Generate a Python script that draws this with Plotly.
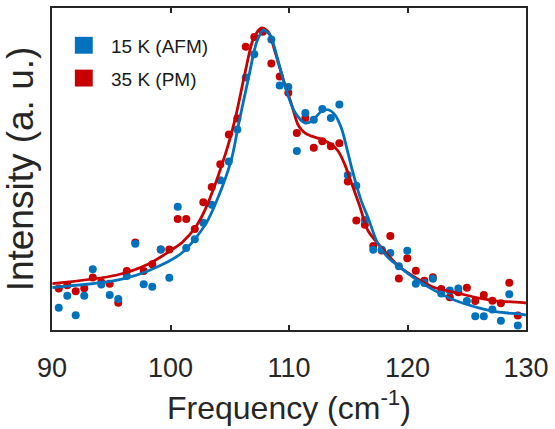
import plotly.graph_objects as go

# ---------------- data ----------------
freq = [90.57, 91.29, 92.00, 92.72, 93.44, 94.16, 94.87, 95.59, 96.31, 97.03,
        97.74, 98.46, 99.18, 99.90, 100.61, 101.33, 102.05, 102.77, 103.48, 104.20,
        104.92, 105.64, 106.35, 107.07, 107.79, 108.51, 109.22, 109.94, 110.66, 111.38,
        112.09, 112.81, 113.53, 114.25, 114.96, 115.68, 116.40, 117.11, 117.83, 118.55,
        119.27, 119.98, 120.70, 121.42, 122.14, 122.85, 123.57, 124.29, 125.01, 125.72,
        126.44, 127.16, 127.88, 128.59, 129.31]

afm_15K = [0.069, 0.106, 0.046, 0.106, 0.189, 0.141, 0.109, 0.096, 0.168, 0.268,
           0.142, 0.134, 0.250, 0.162, 0.383, 0.255, 0.282, 0.333, 0.389, 0.465,
           0.523, 0.623, 0.784, 0.856, 1.013, 0.902, 0.759, 0.755, 0.556, 0.674,
           0.653, 0.686, 0.658, 0.700, 0.481, 0.448, 0.342, 0.249, 0.249, 0.239,
           0.198, 0.246, 0.144, 0.146, 0.159, 0.113, 0.123, 0.129, 0.090, 0.043,
           0.043, 0.064, 0.029, 0.111, 0.014]

pm_35K = [0.129, 0.139, 0.120, 0.130, 0.163, 0.148, 0.144, 0.085, 0.183, 0.272,
          0.183, 0.204, 0.250, 0.250, 0.345, 0.345, 0.314, 0.397, 0.444, 0.515,
          0.607, 0.657, 0.880, 0.910, 0.926, 0.828, 0.787, 0.737, 0.612, 0.658,
          0.566, 0.586, 0.571, 0.580, 0.461, 0.340, 0.327, 0.261, 0.247, 0.292,
          0.160, 0.223, 0.184, 0.153, 0.164, 0.127, 0.102, 0.117, 0.131, 0.090,
          0.109, 0.091, 0.083, 0.147, 0.045]

fit_afm_x = [90.04, 95.39, 98.19, 100.98, 102.95, 104.34, 105.18, 105.74, 106.58,
             107.28, 107.84, 108.40, 109.10, 109.80, 110.50, 111.34, 111.90, 112.74, 113.30,
             113.86, 114.42, 114.98, 115.40, 116.10, 116.66, 117.50, 118.34, 119.18, 120.02,
             120.86, 122.26, 123.94, 126.17, 127.57, 129.82, 130.0]
fit_afm_y = [0.132, 0.154, 0.185, 0.240, 0.328, 0.442, 0.535, 0.638, 0.782,
             0.895, 0.931, 0.916, 0.833, 0.741, 0.676, 0.643, 0.648, 0.679, 0.684,
             0.669, 0.627, 0.549, 0.488, 0.401, 0.350, 0.268, 0.226, 0.200, 0.176,
             0.154, 0.123, 0.093, 0.067, 0.056, 0.048, 0.046]

fit_pm_x = [90.04, 95.39, 98.19, 100.14, 100.98, 102.11, 102.95, 104.63, 105.47, 106.31,
            107.00, 107.70, 108.26, 108.82, 109.66, 110.22, 110.78, 111.34, 111.90, 112.74,
            113.58, 114.14, 114.70, 115.12, 115.96, 116.66, 117.78, 119.18, 120.58, 122.26,
            123.94, 126.17, 127.57, 129.82, 130.0]
fit_pm_y = [0.144, 0.170, 0.206, 0.250, 0.272, 0.319, 0.376, 0.546, 0.658, 0.802,
            0.905, 0.938, 0.926, 0.864, 0.761, 0.700, 0.636, 0.612, 0.602, 0.592,
            0.576, 0.556, 0.515, 0.472, 0.386, 0.309, 0.257, 0.201, 0.165, 0.132,
            0.117, 0.098, 0.090, 0.085, 0.083]

x_ticks = [90, 100, 110, 120, 130]
labels = ["15 K (AFM)", "35 K (PM)"]

BLUE = "#0072BD"
RED = "#C80000"
FONT = "Liberation Sans, Arial, sans-serif"

fig = go.Figure()
fig.add_trace(go.Scatter(x=freq, y=pm_35K, mode="markers", cliponaxis=False,
                         marker=dict(color=RED, size=8), showlegend=False))
fig.add_trace(go.Scatter(x=freq, y=afm_15K, mode="markers", cliponaxis=False,
                         marker=dict(color=BLUE, size=8), showlegend=False))
fig.add_trace(go.Scatter(x=fit_pm_x, y=fit_pm_y, mode="lines",
                         line=dict(color=RED, width=2.8, shape="spline", smoothing=0.8),
                         showlegend=False))
fig.add_trace(go.Scatter(x=fit_afm_x, y=fit_afm_y, mode="lines",
                         line=dict(color=BLUE, width=2.8, shape="spline", smoothing=0.8),
                         showlegend=False))

# manual legend (paper coordinates)
L, R_, T, B = 52, 529, 6, 330
W, H = R_ - L, B - T
def px(xp): return (xp - L) / W
def py(yp): return (B - yp) / H

shapes = []
annotations = []
for i, (lab, col) in enumerate(zip(labels, [BLUE, RED])):
    yc = 43.5 + 33 * i
    shapes.append(dict(type="rect", xref="paper", yref="paper",
                       x0=px(75), x1=px(93), y0=py(yc + 8.5), y1=py(yc - 8.5),
                       fillcolor=col, line=dict(width=0)))
    annotations.append(dict(text=lab, xref="paper", yref="paper", x=px(109), y=py(yc + 1.5),
                            xanchor="left", yanchor="middle", showarrow=False,
                            font=dict(family=FONT, size=19, color="#1a1a1a")))

fig.update_layout(
    width=555, height=429,
    margin=dict(l=L, r=555 - R_, t=T, b=429 - B),
    paper_bgcolor="white", plot_bgcolor="white",
    font=dict(family=FONT, color="#262626"),
    shapes=shapes, annotations=annotations,
    xaxis=dict(range=[90, 130], tickvals=x_ticks, ticks="inside", ticklen=5, tickwidth=1.5,
               tickcolor="#262626", showline=True, linecolor="#262626", linewidth=2,
               mirror="ticks", showgrid=False, zeroline=False, ticklabelstandoff=13,
               tickfont=dict(size=27, family=FONT, color="#262626"),
               title=dict(text="Frequency (cm<sup>-1</sup>)", standoff=14,
                          font=dict(size=32, family=FONT, color="#262626"))),
    yaxis=dict(range=[0, 1], showticklabels=False, ticks="", showline=True,
               linecolor="#262626", linewidth=2, mirror=True, showgrid=False,
               zeroline=False,
               title=dict(text="Intensity (a. u.)", standoff=6,
                          font=dict(size=37, family=FONT, color="#262626"))),
)

fig.write_html("out.html")
